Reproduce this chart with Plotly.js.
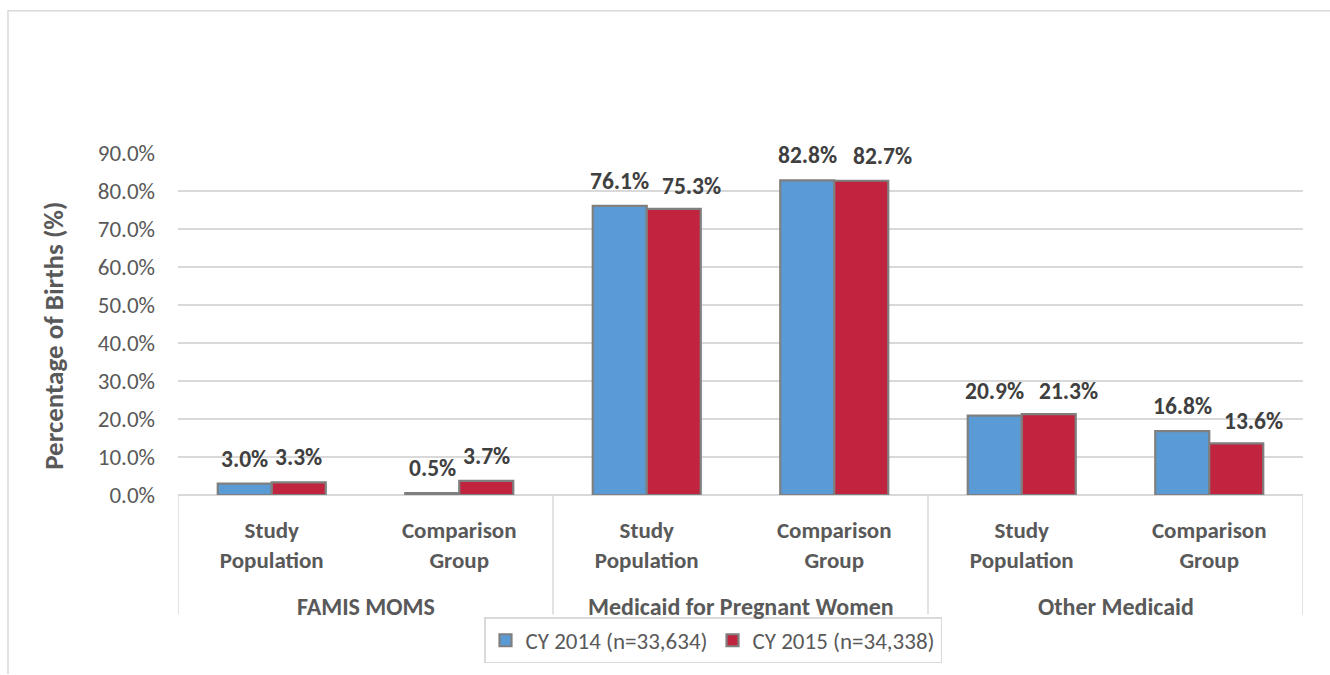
<!DOCTYPE html>
<html>
<head>
<meta charset="utf-8">
<script src="https://cdn.plot.ly/plotly-3.0.1.min.js"></script>
<style>
  html, body { margin: 0; padding: 0; background: #fff; }
  #chart { width: 1330px; height: 675px; }
</style>
</head>
<body>
<div id="chart"></div>
<script>
// ---- data ----
const groups = ["FAMIS MOMS", "FAMIS MOMS", "Medicaid for Pregnant Women", "Medicaid for Pregnant Women", "Other Medicaid", "Other Medicaid"];
const subLabels = ["Study<br>Population", "Comparison<br>Group", "Study<br>Population", "Comparison<br>Group", "Study<br>Population", "Comparison<br>Group"];
const groupNames = ["FAMIS MOMS", "Medicaid for Pregnant Women", "Other Medicaid"];
const series2014 = [3.0, 0.5, 76.1, 82.8, 20.9, 16.8];
const series2015 = [3.3, 3.7, 75.3, 82.7, 21.3, 13.6];
const seriesNames = ["CY 2014 (n=33,634)", "CY 2015 (n=34,338)"];
const yTicks = [0, 10, 20, 30, 40, 50, 60, 70, 80, 90];

// ---- layout / style constants ----
const W = 1330, H = 675;
const mL = 178, mR = 27, mT = 153, mB = 176;
const plotW = W - mL - mR;
const plotH = H - mT - mB;
const BARGAP = 0.424;
const FONT = "Carlito, Calibri, Lato, sans-serif";
const grid = "#d9d9d9";
const colors = ["#5B9BD5", "#C0243E"];
// label nudges (px) used to avoid overlapping labels, per series
const labelNudgeX = [[0, 0, 0, 0, 0, 0], [0, 0, 18, 21, 20, 17]];
const labelLiftY = [[25, 25, 25, 25, 25, 25], [25, 25, 23, 25, 23, 22]];

const cats = groups.map((g, i) => g + "|" + i);

const allSeries = [series2014, series2015];
const traces = allSeries.map((ys, k) => ({
  type: "bar",
  x: cats,
  y: ys,
  name: seriesNames[k],
  marker: { color: colors[k], line: { color: "#7f7f7f", width: 2.2 } },
  hoverinfo: "skip"
}));

const annotations = [];
const shapes = [];
const px2x = (px) => (px - mL) / plotW;
const px2y = (py) => (H - mB - py) / plotH;

// data labels above bars
const catPx = plotW / cats.length;
const barPx = catPx * (1 - BARGAP) / allSeries.length;
allSeries.forEach((ys, k) => {
  const off = (k - (allSeries.length - 1) / 2) * barPx;
  ys.forEach((v, i) => {
    annotations.push({
      x: cats[i], xref: "x", y: v, yref: "y",
      xshift: off + labelNudgeX[k][i], yshift: labelLiftY[k][i],
      yanchor: "middle", xanchor: "center",
      text: "<b>" + v.toFixed(1) + "%</b>", showarrow: false,
      font: { family: FONT, size: 23.5, color: "#404040" }
    });
  });
});

// group label annotations & dividers
groupNames.forEach((gName) => {
  const idx = groups.map((g, i) => g === gName ? i : -1).filter(i => i >= 0);
  const center = (idx[0] + idx[idx.length - 1]) / 2;
  annotations.push({
    x: center, xref: "x", y: 0, yref: "paper",
    yanchor: "middle", yshift: -111,
    text: "<b>" + gName + "</b>", showarrow: false,
    font: { family: FONT, size: 24, color: "#595959" }
  });
});
const divY = -121 / plotH;
for (let b = -0.5; b <= groups.length - 0.5; b += 2) {
  shapes.push({
    type: "line", xref: "x", yref: "paper",
    x0: b, x1: b, y0: 0, y1: divY,
    line: { color: grid, width: 1.5 }
  });
}

// y axis title (as annotation for exact placement)
annotations.push({
  x: px2x(54), xref: "paper", y: px2y(338), yref: "paper",
  xanchor: "center", yanchor: "middle", textangle: -90,
  text: "<b>Percentage of Births (%)</b>", showarrow: false,
  font: { family: FONT, size: 27, color: "#595959" }
});

// outer chart border (left and top)
shapes.push({
  type: "path", xref: "paper", yref: "paper",
  path: `M ${px2x(8)} ${px2y(680)} L ${px2x(8)} ${px2y(9)} L ${px2x(1340)} ${px2y(9)}`,
  line: { color: grid, width: 1.5 }
});

const layout = {
  width: W, height: H,
  margin: { l: mL, r: mR, t: mT, b: mB, pad: 0 },
  paper_bgcolor: "#fff", plot_bgcolor: "#fff",
  barmode: "group",
  bargap: BARGAP,
  bargroupgap: 0,
  font: { family: FONT, color: "#595959" },
  showlegend: true,
  legend: {
    orientation: "h",
    x: px2x(713), xanchor: "center",
    y: px2y(646), yanchor: "middle",
    bordercolor: grid, borderwidth: 1.5,
    font: { family: FONT, size: 23, color: "#595959" },
    traceorder: "normal"
  },
  xaxis: {
    type: "category",
    range: [-0.5, groups.length - 0.5],
    tickvals: cats, ticktext: subLabels.map(s => "<b>" + s + "</b>"),
    tickfont: { family: FONT, size: 23, color: "#595959" },
    showgrid: false, zeroline: false, showline: false, ticks: "",
    ticklabelstandoff: 19
  },
  yaxis: {
    range: [0, 90],
    tickvals: yTicks,
    ticktext: yTicks.map(v => v.toFixed(1) + "%"),
    tickfont: { family: FONT, size: 23, color: "#595959" },
    showgrid: true, gridcolor: grid, gridwidth: 1.5,
    zeroline: true, zerolinecolor: grid, zerolinewidth: 1.5,
    showline: false, ticks: "",
    ticklabelstandoff: 22
  },
  annotations: annotations,
  shapes: shapes
};

Plotly.newPlot("chart", traces, layout, { displayModeBar: false, staticPlot: true });
</script>
</body>
</html>
